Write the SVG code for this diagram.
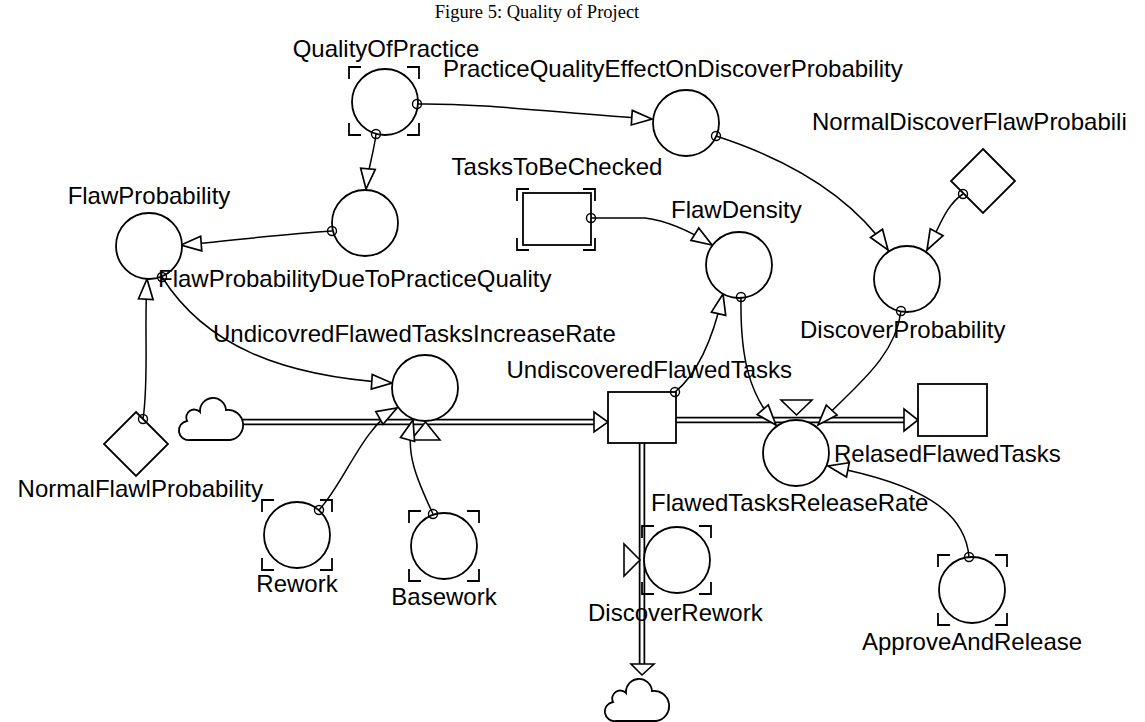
<svg xmlns="http://www.w3.org/2000/svg" width="1145" height="722" viewBox="0 0 1145 722">
  <style>
    .node { fill: #fff; stroke: #000; stroke-width: 1.8; }
    .ghost { fill: none; stroke: #000; stroke-width: 1.8; }
    .link { fill: none; stroke: #000; stroke-width: 1.5; marker-end: url(#head); }
    .tail { fill: none; stroke: #000; stroke-width: 1.4; }
    .pipe-out { fill: none; stroke: #000; stroke-width: 6.5; }
    .pipe-in { fill: none; stroke: #fff; stroke-width: 3; }
    .valve { fill: #fff; stroke: #000; stroke-width: 1.6; }
    .lbl { font-family: "Liberation Sans", Arial, sans-serif; font-size: 24px; fill: #000; }
    .title { font-family: "Liberation Serif", "Times New Roman", serif; font-size: 18.5px; fill: #000; }
  </style>
  <defs>
    <marker id="head" markerUnits="userSpaceOnUse" markerWidth="24" markerHeight="18" viewBox="-1 -8 21 16" refX="18" refY="0" orient="auto">
      <path d="M0,-6.5 L18,0 L0,6.5 Z" fill="#fff" stroke="#000" stroke-width="1.5"/>
    </marker>
    <path id="cloud" d="M10,45 A9.5,9.5 0 0 1 7,26 A8,8 0 0 1 20,17 A13,13 0 0 1 46,15 A15,15 0 0 1 50,45 Z" fill="#fff" stroke="#000" stroke-width="1.8"/>
  </defs>

  <rect width="1145" height="722" fill="#fff"/>

  <text class="title" x="537" y="18" text-anchor="middle">Figure 5: Quality of Project</text>

  <!-- material flows (double pipes) -->
  <g id="flows">
    <path class="pipe-out" d="M238,422 H596"/>
    <path class="pipe-in" d="M236,422 H598"/>
    <polygon class="valve" points="594,412 608,422 594,432"/>

    <path class="pipe-out" d="M676,420 H906"/>
    <path class="pipe-in" d="M674,420 H908"/>
    <polygon class="valve" points="904,409 918,420 904,431"/>

    <path class="pipe-out" d="M642,443 V666"/>
    <path class="pipe-in" d="M642,441 V668"/>
    <polygon class="valve" points="631,664 654,664 642,675"/>

    <use href="#cloud" x="180" y="395"/>
    <use href="#cloud" x="606" y="676"/>

    <polygon class="valve" points="411,440 440,440 425.5,422"/>
    <polygon class="valve" points="781,400 812,400 796.5,415"/>
    <polygon class="valve" points="624,544 624,576 640,560"/>
  </g>

  <!-- information links -->
  <g id="connectors">
    <path class="link" d="M417,104 C480,103 560,113 652,119"/>
    <path class="link" d="M376,134 C374,152 368,168 366,189"/>
    <path class="link" d="M332,231 C280,234 222,242 181,245"/>
    <path class="link" d="M143,419 C149,380 144,330 147,279"/>
    <path class="link" d="M162,277 C205,345 280,376 392,383"/>
    <path class="link" d="M319,510 C345,482 362,428 397,408"/>
    <path class="link" d="M433,514 C418,482 404,452 413,420"/>
    <path class="link" d="M591,218 L645,218 C670,221 693,233 712,245"/>
    <path class="link" d="M675,392 C700,372 714,334 723,294"/>
    <path class="link" d="M741,297 C740,360 750,395 776,425"/>
    <path class="link" d="M716,136 C790,160 850,195 888,250"/>
    <path class="link" d="M963,194 C946,205 940,226 927,250"/>
    <path class="link" d="M901,311 C895,360 850,390 818,425"/>
    <path class="link" d="M969,557 C965,510 920,484 828,466"/>
  </g>

  <!-- auxiliary and stock nodes -->
  <g id="QualityOfPractice">
    <circle class="node" cx="385" cy="102" r="33"/>
    <path class="ghost" d="M349,79 V67 H361 M407,67 H419 V79 M419,123 V135 H407 M361,135 H349 V123"/>
    <circle class="tail" cx="417" cy="104" r="4.5"/>
    <circle class="tail" cx="376" cy="134" r="4.5"/>
    <text class="lbl" x="386" y="57" text-anchor="middle">QualityOfPractice</text>
  </g>

  <g id="PracticeQualityEffectOnDiscoverProbability">
    <circle class="node" cx="686" cy="123" r="33"/>
    <circle class="tail" cx="716" cy="136" r="4.5"/>
    <text class="lbl" x="443" y="77">PracticeQualityEffectOnDiscoverProbability</text>
  </g>

  <g id="NormalDiscoverFlawProbability">
    <polygon class="node" points="983,149 1015,181 983,213 951,181"/>
    <circle class="tail" cx="963" cy="194" r="4.5"/>
    <text class="lbl" x="812" y="130">NormalDiscoverFlawProbabili</text>
  </g>

  <g id="TasksToBeChecked">
    <rect class="node" x="523" y="193" width="68" height="52"/>
    <path class="ghost" d="M517,201 V189 H529 M583,189 H595 V201 M595,238 V250 H583 M529,250 H517 V238"/>
    <circle class="tail" cx="591" cy="218" r="4.5"/>
    <text class="lbl" x="557" y="175" text-anchor="middle">TasksToBeChecked</text>
  </g>

  <g id="FlawProbability">
    <circle class="node" cx="149" cy="246" r="33"/>
    <circle class="tail" cx="162" cy="277" r="4.5"/>
    <text class="lbl" x="149" y="204" text-anchor="middle">FlawProbability</text>
  </g>

  <g id="FlawProbabilityDueToPracticeQuality">
    <circle class="node" cx="365" cy="223" r="33"/>
    <circle class="tail" cx="332" cy="231" r="4.5"/>
    <text class="lbl" x="158" y="287">FlawProbabilityDueToPracticeQuality</text>
  </g>

  <g id="FlawDensity">
    <circle class="node" cx="739" cy="265" r="33"/>
    <circle class="tail" cx="741" cy="297" r="4.5"/>
    <text class="lbl" x="671" y="218">FlawDensity</text>
  </g>

  <g id="DiscoverProbability">
    <circle class="node" cx="907" cy="279" r="33"/>
    <circle class="tail" cx="901" cy="311" r="4.5"/>
    <text class="lbl" x="800" y="338">DiscoverProbability</text>
  </g>

  <g id="NormalFlawlProbability">
    <polygon class="node" points="136,412 168,444 136,476 104,444"/>
    <circle class="tail" cx="143" cy="419" r="4.5"/>
    <text class="lbl" x="263" y="497" text-anchor="end">NormalFlawlProbability</text>
  </g>

  <g id="UndicovredFlawedTasksIncreaseRate">
    <circle class="node" cx="425" cy="388" r="33"/>
    <text class="lbl" x="213" y="342">UndicovredFlawedTasksIncreaseRate</text>
  </g>

  <g id="UndiscoveredFlawedTasks">
    <rect class="node" x="608" y="392" width="68" height="51"/>
    <circle class="tail" cx="675" cy="392" r="4.5"/>
    <text class="lbl" x="792" y="378" text-anchor="end">UndiscoveredFlawedTasks</text>
  </g>

  <g id="RelasedFlawedTasks">
    <rect class="node" x="918" y="384" width="69" height="52"/>
    <text class="lbl" x="834" y="462">RelasedFlawedTasks</text>
  </g>

  <g id="FlawedTasksReleaseRate">
    <circle class="node" cx="796" cy="453" r="33"/>
    <text class="lbl" x="651" y="511">FlawedTasksReleaseRate</text>
  </g>

  <g id="Rework">
    <circle class="node" cx="297" cy="535" r="33"/>
    <path class="ghost" d="M262,512 V500 H274 M320,500 H332 V512 M332,558 V570 H320 M274,570 H262 V558"/>
    <circle class="tail" cx="319" cy="510" r="4.5"/>
    <text class="lbl" x="297" y="592" text-anchor="middle">Rework</text>
  </g>

  <g id="Basework">
    <circle class="node" cx="444" cy="546" r="33"/>
    <path class="ghost" d="M409,523 V511 H421 M467,511 H479 V523 M479,569 V581 H467 M421,581 H409 V569"/>
    <circle class="tail" cx="433" cy="514" r="4.5"/>
    <text class="lbl" x="444" y="605" text-anchor="middle">Basework</text>
  </g>

  <g id="DiscoverRework">
    <circle class="node" cx="677" cy="560" r="33"/>
    <path class="ghost" d="M642,538 V526 H654 M699,526 H711 V538 M711,582 V594 H699 M654,594 H642 V582"/>
    <text class="lbl" x="588" y="621">DiscoverRework</text>
  </g>

  <g id="ApproveAndRelease">
    <circle class="node" cx="972" cy="590" r="33"/>
    <path class="ghost" d="M938,567 V555 H950 M995,555 H1007 V567 M1007,613 V625 H995 M950,625 H938 V613"/>
    <circle class="tail" cx="969" cy="557" r="4.5"/>
    <text class="lbl" x="972" y="650" text-anchor="middle">ApproveAndRelease</text>
  </g>
</svg>
